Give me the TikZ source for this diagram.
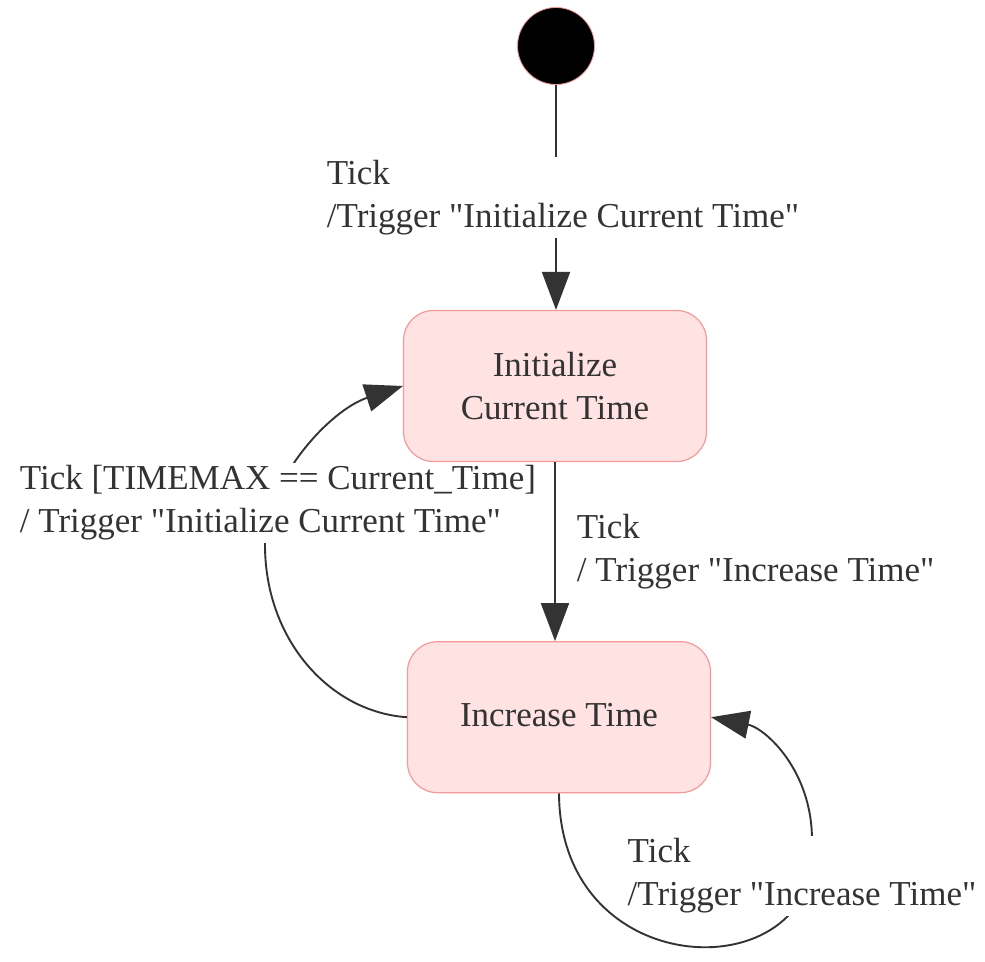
\documentclass[tikz,border=0pt]{standalone}
\usepackage{fontspec}
\setmainfont{Liberation Serif}
\usetikzlibrary{arrows.meta,positioning}
\definecolor{statefill}{HTML}{FFE2E2}
\definecolor{statedraw}{HTML}{F49A9A}
\definecolor{linegray}{HTML}{333333}
\definecolor{txtgray}{HTML}{333333}
\newcommand{\sq}{\textquotedbl}

\begin{document}
\begin{tikzpicture}[x=1pt,y=1pt,
every node/.style={font=\fontsize{35}{43}\selectfont, text=txtgray},
initial/.style={
% The shape:
circle, minimum size=77pt, inner sep=0pt,
% The filling:
fill=black, draw=statedraw, thick
},
state/.style={
% The shape:
rectangle, rounded corners=30pt,
% The size:
minimum width=303pt, minimum height=151pt,
% The border:
draw=statedraw, line width=1.2pt,
% The filling:
fill=statefill, align=center
},
trans/.style={draw=linegray, line width=1.9pt, -{Triangle[length=38pt,width=28pt]}},
guard/.style={fill=white, inner sep=3pt, align=left}
]
\useasboundingbox (0,0) rectangle (985,-961);

\node (start) [initial] at (556,-46) {};
\node (init) [state, below=225pt of start, xshift=-1pt] {Initialize\\Current Time};
\node (inc) [state, below=179pt of init, xshift=4pt] {\raisebox{4pt}{Increase Time}};

\path (start) edge[trans] node[guard, xshift=7pt] (tickinit) {Tick\\/Trigger \sq Initialize Current Time\sq} (start |- init.north);
\path (init.south) edge[trans] node[right=18pt, inner sep=3pt, align=left] (tickinc) {Tick\\/ Trigger \sq Increase Time\sq} (init.south |- inc.north);

% back to the first state
\draw[trans] (inc.west) .. controls (330,-712) and (265,-640) .. (265,-545) .. controls (265,-480) and (330,-410) .. (init.west);
\node (tickback) [guard] at (278,-503) {Tick [TIMEMAX == Current\_Time]\\/ Trigger \sq Initialize Current Time\sq};

% self loop
\draw[trans] (inc.south) .. controls (560,-990) and (828,-990) .. (812,-840) .. controls (812,-770) and (765,-728) .. (inc.east);
\node (tickloop) [guard] at (802,-876) {Tick\\/Trigger \sq Increase Time\sq};
\end{tikzpicture}
\end{document}
